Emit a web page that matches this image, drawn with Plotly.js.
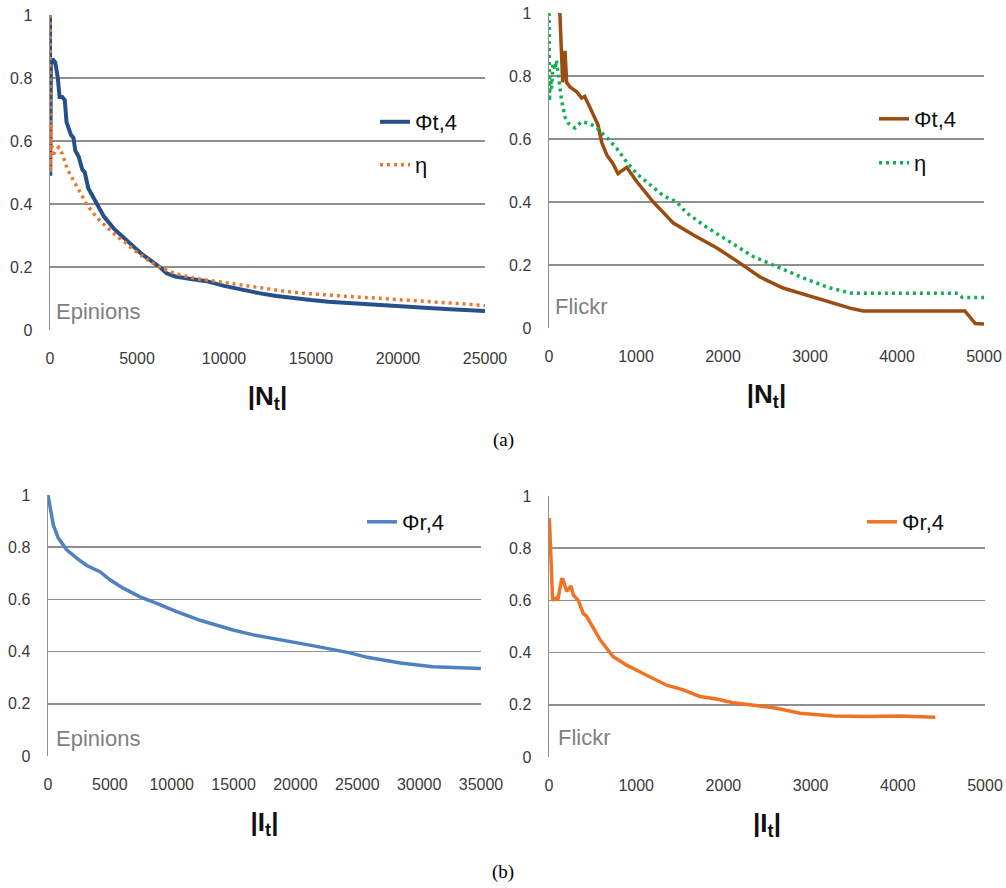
<!DOCTYPE html>
<html>
<head>
<meta charset="utf-8">
<script src="https://cdn.plot.ly/plotly-3.0.1.min.js"></script>
<style>html,body{margin:0;padding:0;background:#fff;}#chart{width:1006px;height:888px;}</style>
</head>
<body>
<div id="chart"></div>
<script>
// ---- (a) Epinions: |N_t| ----
const epiN_phi_x = [0,15,50,150,300,450,550,700,850,950,1050,1200,1350,1450,1650,1850,2000,2200,2400,2600,2850,3100,3400,3700,4100,4500,4900,5300,5800,6300,6700,7200,8000,9000,10000,11000,12000,13000,14000,15000,16000,17000,18000,19000,20000,21000,22000,23000,24000,25000];
const epiN_phi_y = [1.0,0.49,0.84,0.86,0.85,0.80,0.74,0.74,0.73,0.66,0.64,0.62,0.61,0.57,0.55,0.51,0.50,0.45,0.43,0.41,0.38,0.36,0.34,0.32,0.30,0.28,0.26,0.24,0.22,0.20,0.18,0.17,0.163,0.155,0.14,0.127,0.117,0.108,0.1,0.095,0.09,0.086,0.082,0.078,0.075,0.072,0.069,0.066,0.063,0.06];
const epiN_eta_x = [0,10,40,80,150,300,500,700,850,1000,1200,1500,1800,2100,2500,2900,3400,3900,4400,4800,5300,5800,6300,7000,7700,8500,9500,10500,11500,12500,13500,14500,15500,17000,18500,20000,21500,23000,24000,25000];
const epiN_eta_y = [1.0,0.50,0.66,0.60,0.55,0.57,0.58,0.56,0.53,0.51,0.49,0.46,0.43,0.40,0.37,0.345,0.32,0.295,0.275,0.255,0.235,0.215,0.2,0.183,0.172,0.162,0.155,0.147,0.138,0.13,0.123,0.117,0.112,0.107,0.102,0.097,0.092,0.087,0.082,0.077];

// ---- (a) Flickr: |N_t| ----
const flkN_phi_x = [125,157,184,203,241,318,375,410,471,529,563,605,663,739,793,893,1008,1199,1430,1660,1930,2195,2425,2690,3080,3460,3610,4000,4400,4780,4900,5000];
const flkN_phi_y = [1.0,0.78,0.88,0.78,0.765,0.75,0.73,0.735,0.70,0.665,0.645,0.59,0.55,0.52,0.49,0.51,0.465,0.40,0.333,0.295,0.254,0.206,0.162,0.127,0.095,0.063,0.054,0.054,0.054,0.054,0.014,0.013];
const flkN_eta_x = [0,5,15,30,45,69,85,107,126,146,184,222,299,375,452,529,605,682,778,893,1008,1161,1314,1467,1583,1812,2044,2345,2620,2885,3195,3460,3650,4000,4400,4700,4750,5000];
const flkN_eta_y = [1.0,0.72,0.80,0.76,0.84,0.82,0.85,0.80,0.745,0.72,0.67,0.65,0.635,0.655,0.65,0.64,0.62,0.60,0.57,0.527,0.49,0.455,0.42,0.40,0.365,0.32,0.28,0.227,0.195,0.163,0.13,0.111,0.11,0.11,0.11,0.11,0.097,0.097];

// ---- (b) Epinions: |I_t| ----
const epiI_x = [0,300,430,835,1510,2320,3130,4200,5010,6070,7440,8790,10400,12290,13640,14960,16600,19000,21700,24400,25800,28500,31100,35000];
const epiI_y = [1.0,0.93,0.885,0.835,0.79,0.758,0.73,0.706,0.675,0.643,0.61,0.585,0.553,0.52,0.50,0.483,0.464,0.444,0.42,0.395,0.378,0.356,0.342,0.335];

// ---- (b) Flickr: |I_t| ----
const flkI_x = [4,42,88,100,145,160,203,252,280,336,393,430,489,585,734,890,1080,1350,1540,1730,1920,2110,2420,2610,2880,3260,3640,4020,4430];
const flkI_y = [0.915,0.60,0.61,0.60,0.68,0.68,0.635,0.655,0.62,0.60,0.55,0.54,0.505,0.45,0.385,0.352,0.32,0.275,0.257,0.232,0.222,0.208,0.195,0.187,0.168,0.157,0.155,0.157,0.152];

const tickY = [0,0.2,0.4,0.6,0.8,1];
const legendNames = {phiT:'Φt,4', eta:'η', phiR:'Φr,4'};
const panelNames = ['Epinions','Flickr','Epinions','Flickr'];
const captions = ['(a)','(b)'];

const W = 1006, H = 888;
const px = v => v / W;
const py = v => 1 - v / H;

const SANS = 'Liberation Sans, Arial, sans-serif';
const GRID = '#8f8f8f';
const TICKFONT = {family:SANS, size:16, color:'#3a3a3a'};
const LEGFONT = {family:SANS, size:22, color:'#111'};

const traces = [
  {x:epiN_phi_x, y:epiN_phi_y, xaxis:'x', yaxis:'y', name:legendNames.phiT, mode:'lines', line:{color:'#25508a', width:4}, legend:'legend'},
  {x:epiN_eta_x, y:epiN_eta_y, xaxis:'x', yaxis:'y', name:legendNames.eta, mode:'lines', line:{color:'#e9782e', width:3.5, dash:'3px,4px'}, legend:'legend2'},
  {x:flkN_phi_x, y:flkN_phi_y, xaxis:'x2', yaxis:'y2', name:legendNames.phiT, mode:'lines', line:{color:'#9b4c10', width:3.5}, legend:'legend3'},
  {x:flkN_eta_x, y:flkN_eta_y, xaxis:'x2', yaxis:'y2', name:legendNames.eta, mode:'lines', line:{color:'#10b050', width:3.5, dash:'3px,4px'}, legend:'legend4'},
  {x:epiI_x, y:epiI_y, xaxis:'x3', yaxis:'y3', name:legendNames.phiR, mode:'lines', line:{color:'#4f81c0', width:3.5}, legend:'legend5'},
  {x:flkI_x, y:flkI_y, xaxis:'x4', yaxis:'y4', name:legendNames.phiR, mode:'lines', line:{color:'#f07222', width:3.5}, legend:'legend6'}
];

function xax(dom, anchor, range, dtick, title) {
  return {domain:dom, anchor:anchor, range:range, dtick:dtick, tick0:0, tickformat:'d',
    showgrid:false, zeroline:false, showline:false, ticks:'', ticklabelstandoff:17,
    tickfont:TICKFONT, fixedrange:true,
    title:{text:title, font:{family:SANS, size:26, color:'#111'}, standoff:20}};
}
function yax(dom, anchor) {
  return {domain:dom, anchor:anchor, range:[0,1], tickvals:tickY, showgrid:true, gridcolor:GRID, gridwidth:1.5,
    zeroline:false, showline:true, linecolor:GRID, linewidth:1.5, ticks:'', ticklabelstandoff:13,
    tickfont:TICKFONT, fixedrange:true};
}
function leg(xp, yp) {
  return {x:px(xp), y:py(yp), xanchor:'left', yanchor:'middle', bgcolor:'rgba(0,0,0,0)', borderwidth:0, font:LEGFONT};
}

const NT = '<b>|N<sub>t</sub>|</b>';
const IT = '<b>|I<sub>t</sub>|</b>';

const annFont = {family:SANS, size:22, color:'#7f7f7f'};
const capFont = {family:'Liberation Serif, Times New Roman, serif', size:19, color:'#000'};

const layout = {
  width:W, height:H, margin:{l:0,r:0,t:0,b:0}, paper_bgcolor:'#fff', plot_bgcolor:'#fff',
  showlegend:true,
  xaxis: xax([px(50),px(485)], 'y', [0,25000], 5000, NT),
  yaxis: yax([py(330),py(15)], 'x'),
  xaxis2: xax([px(549),px(984)], 'y2', [0,5000], 1000, NT),
  yaxis2: yax([py(328),py(13)], 'x2'),
  xaxis3: xax([px(48),px(481)], 'y3', [0,35000], 5000, IT),
  yaxis3: yax([py(756),py(495)], 'x3'),
  xaxis4: xax([px(549),px(985)], 'y4', [0,5000], 1000, IT),
  yaxis4: yax([py(757),py(496)], 'x4'),
  legend: leg(375, 122),
  legend2: leg(375, 165),
  legend3: leg(874, 119),
  legend4: leg(874, 163),
  legend5: leg(362, 522),
  legend6: leg(862, 522),
  annotations: [
    {text:panelNames[0], xref:'paper', yref:'paper', x:px(54), y:py(312), xanchor:'left', yanchor:'middle', showarrow:false, font:annFont},
    {text:panelNames[1], xref:'paper', yref:'paper', x:px(553), y:py(307), xanchor:'left', yanchor:'middle', showarrow:false, font:annFont},
    {text:panelNames[2], xref:'paper', yref:'paper', x:px(54), y:py(738), xanchor:'left', yanchor:'middle', showarrow:false, font:annFont},
    {text:panelNames[3], xref:'paper', yref:'paper', x:px(556), y:py(737), xanchor:'left', yanchor:'middle', showarrow:false, font:annFont},
    {text:captions[0], xref:'paper', yref:'paper', x:px(503), y:py(440), xanchor:'center', yanchor:'middle', showarrow:false, font:capFont},
    {text:captions[1], xref:'paper', yref:'paper', x:px(503), y:py(872), xanchor:'center', yanchor:'middle', showarrow:false, font:capFont}
  ]
};

Plotly.newPlot('chart', traces, layout, {displayModeBar:false, staticPlot:true});
</script>
</body>
</html>
